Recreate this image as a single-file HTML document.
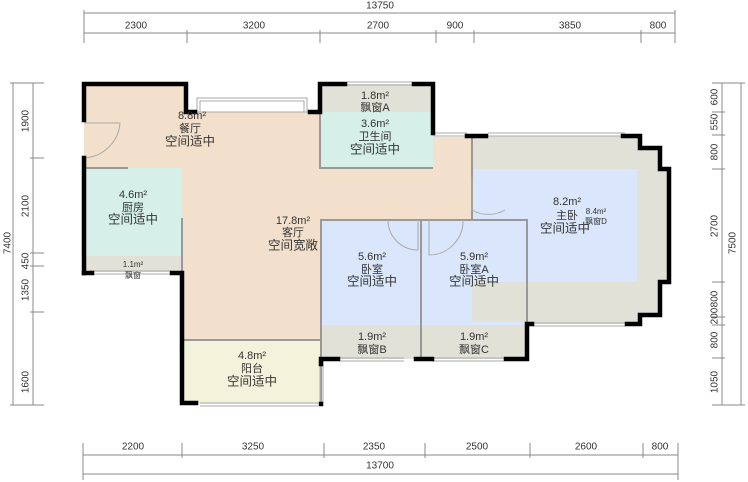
<!DOCTYPE html>
<html><head><meta charset="utf-8"><style>
html,body{margin:0;padding:0;background:#fff;}
svg{display:block;font-family:"Liberation Sans","Noto Sans CJK SC",sans-serif;}
.d{stroke:#888;stroke-width:1;fill:none}
.t{font-size:10px;fill:#333;text-anchor:middle;dominant-baseline:middle}
.l{font-size:11px;fill:#333;text-anchor:middle;dominant-baseline:middle}
.b{font-size:12.5px;fill:#333;text-anchor:middle;dominant-baseline:middle}
.s{font-size:8px;fill:#333;text-anchor:middle;dominant-baseline:middle}
</style></head><body>
<svg width="748" height="482" viewBox="0 0 748 482">
<!-- top dims -->
<line class="d" x1="84" y1="13" x2="675" y2="13"/>
<line class="d" x1="84" y1="33" x2="675" y2="33"/>
<g class="d"><line x1="84" y1="10" x2="84" y2="43"/><line x1="187" y1="30" x2="187" y2="43"/><line x1="320" y1="30" x2="320" y2="43"/><line x1="436" y1="30" x2="436" y2="43"/><line x1="474" y1="30" x2="474" y2="43"/><line x1="641" y1="30" x2="641" y2="43"/><line x1="675" y1="10" x2="675" y2="43"/></g>
<text class="t" x="380" y="6">13750</text>
<text class="t" x="136" y="26">2300</text><text class="t" x="254" y="26">3200</text><text class="t" x="378" y="26">2700</text><text class="t" x="455" y="26">900</text><text class="t" x="570" y="26">3850</text><text class="t" x="658" y="26">800</text>
<!-- bottom dims -->
<line class="d" x1="83" y1="455" x2="678" y2="455"/>
<line class="d" x1="83" y1="474" x2="678" y2="474"/>
<g class="d"><line x1="83" y1="443" x2="83" y2="480"/><line x1="182" y1="443" x2="182" y2="458"/><line x1="324" y1="443" x2="324" y2="458"/><line x1="425" y1="443" x2="425" y2="458"/><line x1="530" y1="443" x2="530" y2="458"/><line x1="643" y1="443" x2="643" y2="458"/><line x1="678" y1="443" x2="678" y2="480"/></g>
<text class="t" x="133" y="447">2200</text><text class="t" x="253" y="447">3250</text><text class="t" x="374" y="447">2350</text><text class="t" x="477" y="447">2500</text><text class="t" x="586" y="447">2600</text><text class="t" x="660" y="447">800</text>
<text class="t" x="380" y="466">13700</text>
<!-- left dims -->
<line class="d" x1="13" y1="83" x2="13" y2="405"/>
<line class="d" x1="33" y1="83" x2="33" y2="405"/>
<g class="d"><line x1="10" y1="83" x2="44" y2="83"/><line x1="30" y1="158" x2="44" y2="158"/><line x1="30" y1="253" x2="44" y2="253"/><line x1="30" y1="266" x2="44" y2="266"/><line x1="30" y1="312" x2="44" y2="312"/><line x1="10" y1="405" x2="44" y2="405"/></g>
<g class="t"><text transform="translate(8,243) rotate(-90)">7400</text><text transform="translate(26,121) rotate(-90)">1900</text><text transform="translate(26,206) rotate(-90)">2100</text><text transform="translate(26,261) rotate(-90)">450</text><text transform="translate(26,290) rotate(-90)">1350</text><text transform="translate(26,382) rotate(-90)">1600</text></g>
<!-- right dims -->
<line class="d" x1="722" y1="83" x2="722" y2="405"/>
<line class="d" x1="741" y1="83" x2="741" y2="405"/>
<g class="d"><line x1="712" y1="83" x2="745" y2="83"/><line x1="712" y1="112" x2="725" y2="112"/><line x1="712" y1="135" x2="725" y2="135"/><line x1="712" y1="169" x2="725" y2="169"/><line x1="712" y1="282" x2="725" y2="282"/><line x1="712" y1="317" x2="725" y2="317"/><line x1="712" y1="325" x2="725" y2="325"/><line x1="712" y1="358" x2="725" y2="358"/><line x1="712" y1="405" x2="745" y2="405"/></g>
<g class="t"><text transform="translate(733,243) rotate(-90)">7500</text><text transform="translate(715,97) rotate(-90)">600</text><text transform="translate(715,122) rotate(-90)">550</text><text transform="translate(715,152) rotate(-90)">800</text><text transform="translate(715,226) rotate(-90)">2700</text><text transform="translate(715,299) rotate(-90)">800</text><text transform="translate(715,316) rotate(-90)">200</text><text transform="translate(715,340) rotate(-90)">800</text><text transform="translate(715,382) rotate(-90)">1050</text></g>

<!-- fills -->
<path d="M84 84 H186 V112 H320 V137 H472 V220 H320 V340 H182 V272 H84 Z" fill="#f3e0cc"/>
<rect x="84" y="168" width="98" height="88" fill="#d6efe8"/>
<rect x="84" y="256" width="98" height="16" fill="#e2e1d8"/>
<rect x="320" y="84" width="113" height="28" fill="#e2e1d8"/>
<rect x="320" y="112" width="113" height="56" fill="#d6efe8"/>
<rect x="182" y="340" width="139" height="64" fill="#f3f2da"/>
<rect x="321" y="220" width="206" height="105" fill="#d9e6fb"/>
<rect x="321" y="325" width="206" height="34" fill="#e2e1d8"/>
<path d="M472 136 H640 V148 H660 V169 H669 V282 H660 V315 H640 V324 H527 V322 H472 Z" fill="#e2e1d8"/>
<rect x="472" y="169" width="165" height="113" fill="#d9e6fb"/>
<rect x="472" y="136" width="55" height="84" fill="#f3e0cc" opacity="0"/>

<!-- inner gray walls -->
<g stroke="#999" stroke-width="2" fill="none">
<path d="M320 112 V168 H433"/>
<line x1="84" y1="168" x2="128" y2="168"/>
<line x1="182" y1="218" x2="182" y2="272"/>
<path d="M321 359 V220 H472"/>
<line x1="421" y1="220" x2="421" y2="359"/>
<path d="M424 220 H527 V324"/>
<path d="M472 136 V220"/>
<line x1="182" y1="340" x2="321" y2="340"/>
<line x1="321" y1="340" x2="321" y2="404"/>
</g>
<!-- windows -->
<g stroke="#aaa" stroke-width="1" fill="none">
<rect x="197" y="98" width="110" height="14"/><rect x="200" y="101" width="104" height="11"/>
<line x1="347" y1="82" x2="412" y2="82"/><line x1="347" y1="85" x2="412" y2="85"/>
<line x1="433" y1="133" x2="467" y2="133"/><line x1="433" y1="136" x2="467" y2="136"/>
<line x1="488" y1="133" x2="625" y2="133"/><line x1="488" y1="136" x2="625" y2="136"/>
<line x1="533" y1="323" x2="625" y2="323"/><line x1="533" y1="326" x2="625" y2="326"/>
<line x1="90" y1="271" x2="172" y2="271"/><line x1="90" y1="274" x2="172" y2="274"/>
<line x1="340" y1="358" x2="404" y2="358"/><line x1="340" y1="361" x2="404" y2="361"/>
<line x1="432" y1="358" x2="505" y2="358"/><line x1="432" y1="361" x2="505" y2="361"/>
<line x1="200" y1="403" x2="318" y2="403"/><line x1="200" y1="406" x2="318" y2="406"/>
<line x1="320" y1="360" x2="320" y2="403"/><line x1="323" y1="360" x2="323" y2="403"/>
</g>
<!-- doors -->
<g stroke="#aaa" stroke-width="1" fill="none">
<path d="M84 158 A38 38 0 0 0 120 123 H84"/>
<path d="M388 220 A30 30 0 0 0 418 250 V220"/>
<path d="M429 220 V255 A34 34 0 0 0 463 220"/>
<path d="M472 177 V210 A33 33 0 0 0 505 210"/>
</g>
<!-- black walls -->
<g stroke="#000" stroke-width="4.5" fill="none" stroke-linecap="square">
<path d="M84 120 V84 H186 V112 H195"/>
<line x1="84" y1="158" x2="84" y2="273"/>
<path d="M84 273 H92"/>
<path d="M172 273 H182 V403 H196"/>
<path d="M310 112 H320 V84 H345"/>
<path d="M414 84 H433 V133"/>
<path d="M467 136 H486"/>
<path d="M623 136 H640 V148 H660 V169 H669 V282 H660 V315 H640 V324 H627"/>
<path d="M321 364 V359 H338"/>
<path d="M416 359 H432"/>
<path d="M506 359 H527 V324 H532"/>
<line x1="321" y1="404" x2="321" y2="404"/>
</g>

<!-- labels -->
<text class="l" x="192" y="116">8.8m²</text><text class="l" x="190" y="129">餐厅</text><text class="b" x="190" y="142">空间适中</text>
<text class="l" x="375" y="96">1.8m²</text><text class="l" x="375" y="108">飘窗A</text>
<text class="l" x="375" y="124">3.6m²</text><text class="l" x="375" y="137">卫生间</text><text class="b" x="375" y="150">空间适中</text>
<text class="l" x="133" y="195">4.6m²</text><text class="l" x="133" y="208">厨房</text><text class="b" x="133" y="220">空间适中</text>
<text class="s" x="133" y="265">1.1m²</text><text class="s" x="133" y="276">飘窗</text>
<text class="l" x="293" y="221">17.8m²</text><text class="l" x="293" y="233">客厅</text><text class="b" x="293" y="246">空间宽敞</text>
<text class="l" x="372" y="257">5.6m²</text><text class="l" x="372" y="270">卧室</text><text class="b" x="372" y="282">空间适中</text>
<text class="l" x="474" y="257">5.9m²</text><text class="l" x="474" y="270">卧室A</text><text class="b" x="474" y="282">空间适中</text>
<text class="l" x="372" y="337">1.9m²</text><text class="l" x="372" y="350">飘窗B</text>
<text class="l" x="474" y="337">1.9m²</text><text class="l" x="474" y="350">飘窗C</text>
<text class="l" x="252" y="356">4.8m²</text><text class="l" x="252" y="369">阳台</text><text class="b" x="252" y="382">空间适中</text>
<text class="l" x="567" y="202">8.2m²</text><text class="l" x="567" y="216">主卧</text><text class="b" x="565" y="229">空间适中</text>
<text class="s" x="596" y="212">8.4m²</text><text class="s" x="596" y="222">飘窗D</text>
</svg>
</body></html>
